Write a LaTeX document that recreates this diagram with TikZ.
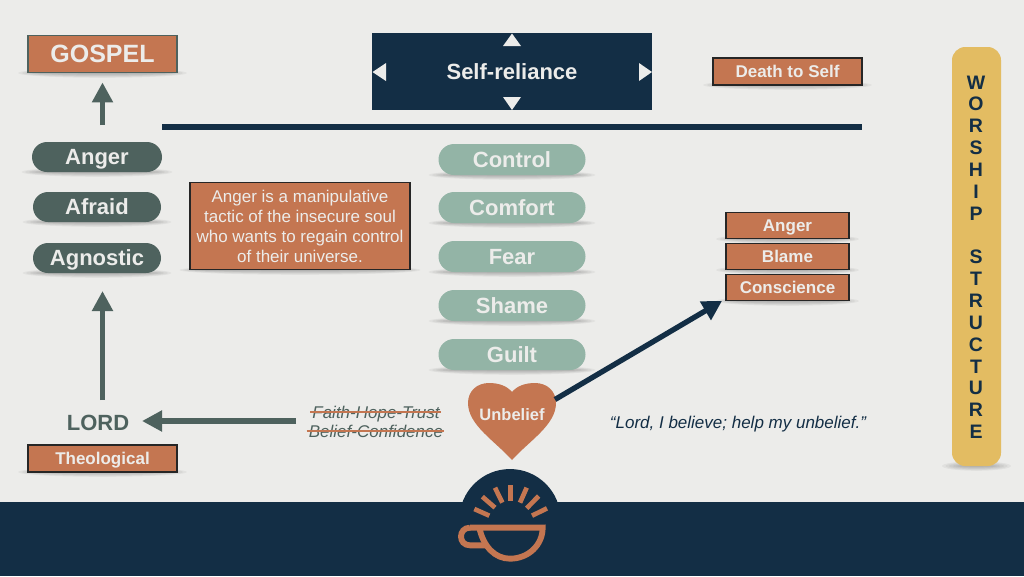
\documentclass[tikz,border=0pt]{standalone}
\usepackage{fontspec}
\setmainfont{Liberation Sans}
\usetikzlibrary{arrows.meta,calc,shapes.misc}
\definecolor{bgc}{HTML}{ECECEA}
\definecolor{orng}{HTML}{C47651}
\definecolor{dkgr}{HTML}{4E625E}
\definecolor{ltgr}{HTML}{93B4A6}
\definecolor{navy}{HTML}{132E45}
\definecolor{yell}{HTML}{E3BC62}
\newcommand{\fsb}[1]{\fontsize{\dimexpr #1pt*3/4\relax}{\dimexpr #1pt*9/10\relax}\selectfont\bfseries}
\newcommand{\fsr}[1]{\fontsize{\dimexpr #1pt*3/4\relax}{\dimexpr 20pt*3/4\relax}\selectfont}
\tikzset{
  x=0.75pt,y=-0.75pt,
  caps17/.style={text height=9.1pt,text depth=0pt},
  caps22/.style={text height=11.8pt,text depth=0pt},
  orbox/.style={draw=black!85,line width=1.1pt,fill=orng,text=bgc,inner sep=0pt,font=\fsb{17},caps17},
  darkpill/.style={rounded rectangle,fill=dkgr,text=bgc,inner sep=0pt,minimum width=96pt,minimum height=22.5pt,font=\fsb{22},caps22},
  lightpill/.style={rounded rectangle,fill=ltgr,text=bgc,inner sep=0pt,minimum width=110.25pt,minimum height=23.25pt,font=\fsb{22},caps22},
  grarrow/.style={draw=dkgr,line width=4.4pt,-{Triangle[length=15pt,width=15pt]}},
  navarrow/.style={draw=navy,line width=4pt,-{Triangle[length=14.5pt,width=15.5pt]}},
  ray/.style={draw=orng,line width=3.5pt},
  cupline/.style={draw=orng,line width=4.4pt,line join=miter},
  whitetri/.style={fill=bgc,draw=none},
  strike/.style={draw=orng,line width=1.5pt},
  letter/.style={text=navy,font=\fsb{19.5},inner sep=0pt,text height=10.5pt,text depth=0pt}
}
\newcommand{\shadowat}[3]{%
  \foreach \k in {1,...,6}{%
    \fill[black,fill opacity=0.045] (#1,#3) ellipse ({(#2+(\k-3)*3.5)*0.75pt} and {\k*0.8*0.75pt});%
  }%
}
\begin{document}
\begin{tikzpicture}
\useasboundingbox (0,0) rectangle (1024,576);
\fill[bgc] (0,0) rectangle (1024,576);

% soft shadows
\shadowat{102.5}{74}{73}
\shadowat{97}{65}{172}
\shadowat{97}{64}{222}
\shadowat{97}{64}{273}
\shadowat{102.5}{74}{472}
\shadowat{787.5}{74}{85}
\shadowat{787.5}{61}{239}
\shadowat{787.5}{61}{270}
\shadowat{787.5}{61}{301}
\shadowat{300}{110}{270}
\shadowat{512}{73}{175}
\shadowat{512}{73}{223}
\shadowat{512}{73}{272}
\shadowat{512}{73}{321}
\shadowat{512}{73}{370}
\shadowat{976.5}{24}{466}

% band and dome
\fill[navy] (0,502) rectangle (1024,576);
\fill[navy] (510,519.7) circle[radius=38pt];

% self-reliance panel
\node[fill=navy,text=bgc,inner sep=0pt,minimum width=210pt,minimum height=57.75pt,font=\fsb{22},caps22] (self) at (512,71.5) {Self-reliance};
\fill[whitetri] (512,33.5) -- (521,46) -- (503,46) -- cycle;
\fill[whitetri] (512,110) -- (521,97) -- (503,97) -- cycle;
\fill[whitetri] (372.5,72) -- (386,63) -- (386,81) -- cycle;
\fill[whitetri] (652,72) -- (639,63) -- (639,81) -- cycle;

% rule
\coordinate (ruleL) at (162,127);
\coordinate (ruleR) at (862,127);
\draw[navy,line width=3.9pt] (ruleL) -- (ruleR);

% left column
\node[draw=dkgr,line width=1.1pt,fill=orng,text=bgc,inner sep=0pt,minimum width=111.5pt,minimum height=28pt,font=\fsb{25},text height=13.4pt,text depth=0pt] (gospel) at (102.5,54) {GOSPEL};
\node[darkpill,minimum width=97.5pt] (anger) at (97,157) {Anger};
\node[darkpill] (afraid) at (97,207) {Afraid};
\node[darkpill] (agnostic) at (97,258) {Agnostic};
\node[text=dkgr,inner sep=0pt,font=\fsb{22},caps22] (lord) at (98,422.5) {LORD};
\node[orbox,minimum width=111.5pt,minimum height=20pt] (theo) at (102.5,458.5) {Theological};

% explanation
\node[draw=black!85,line width=1.1pt,fill=orng,text=bgc,inner sep=0pt,minimum width=165pt,minimum height=65.5pt,align=center,font=\fsr{17}] (expl) at (300,226) {Anger is a manipulative\\tactic of the insecure soul\\who wants to regain control\\of their universe.};

% middle column
\node[lightpill] (control) at (512,159.5) {Control};
\node[lightpill] (comfort) at (512,207.5) {Comfort};
\node[lightpill] (fear) at (512,256.5) {Fear};
\node[lightpill] (shame) at (512,305.5) {Shame};
\node[lightpill] (guilt) at (512,354.5) {Guilt};

% heart
\fill[orng] (512,460) .. controls (495,441) and (468,425) .. (468,403)
  .. controls (468,391) and (477,383) .. (489,383)
  .. controls (499,383) and (507,386) .. (512,392)
  .. controls (517,386) and (525,383) .. (535,383)
  .. controls (547,383) and (556,391) .. (556,403)
  .. controls (556,425) and (529,441) .. (512,460) -- cycle;
\node[text=bgc,inner sep=0pt,font=\fsb{16.5},text height=8.9pt,text depth=0pt] (unbelief) at (512,414.5) {Unbelief};

% struck words
\node[text=dkgr,inner sep=0pt,font=\fsr{17}\itshape,caps17] (faith) at (376,412) {Faith-Hope-Trust};
\node[text=dkgr,inner sep=0pt,font=\fsr{17}\itshape,caps17] (belief) at (376,431) {Belief-Confidence};
\draw[strike] ($(faith.west)+(-2,0)$) -- ($(faith.east)+(1,0)$);
\draw[strike] ($(belief.west)+(-2,0)$) -- ($(belief.east)+(1,0)$);

% quote
\node[text=navy,inner sep=0pt,font=\fsr{17}\itshape,caps17] (quote) at (738,422) {“Lord, I believe; help my unbelief.”};

% right stack
\node[orbox,minimum width=111.5pt,minimum height=20pt] (death) at (787.5,71.5) {Death to Self};
\node[orbox,minimum width=92pt,minimum height=19.5pt] (r1) at (787.5,225.5) {Anger};
\node[orbox,minimum width=92pt,minimum height=19.5pt] (r2) at (787.5,256.5) {Blame};
\node[orbox,minimum width=92pt,minimum height=19.5pt] (r3) at (787.5,287.5) {Conscience};

% worship bar
\fill[yell,rounded corners=10pt] (952,47) rectangle (1001,466);
\foreach \c/\k in {W/0,O/1,R/2,S/3,H/4,I/5,P/6,S/8,T/9,R/10,U/11,C/12,T/13,U/14,R/15,E/16}{
  \node[letter] at (976,82+21.85*\k) {\c};
}

% connectors
\coordinate (gstart) at (102.5,125);
\coordinate (lstart) at (102.5,400);
\coordinate (ltip) at (102.5,291);
\coordinate (hstart) at (296,421);
\coordinate (htip) at (142,421);
\coordinate (nstart) at (555,399.5);
\coordinate (ntip) at (722,301);
\draw[grarrow,shorten >=6.75pt] (gstart) -- (gospel.south);
\draw[grarrow] (lstart) -- (ltip);
\draw[grarrow] (hstart) -- (htip);
\draw[navarrow] (nstart) -- (ntip);

% cup logo (coordinates in 1/3 px from the corner of the logo)
\begin{scope}[shift={(450,465)},x=0.25pt,y=-0.25pt]
  \draw[ray] (73,132) -- (118,152);
  \draw[ray] (97,95) -- (135,128);
  \draw[ray] (135,68) -- (157,113);
  \draw[ray] (182,60) -- (182,107);
  \draw[ray] (230,68) -- (210,113);
  \draw[ray] (266,93) -- (230,130);
  \draw[ray] (291,130) -- (246,152);
  \draw[cupline] (60,188) -- (278,188) .. controls (278,240) and (235,281) .. (180,281)
     .. controls (135,281) and (100,245) .. (88,188);
  \draw[cupline] (60,188) .. controls (24,188) and (24,241) .. (60,241) -- (112,241);
\end{scope}
\end{tikzpicture}
\end{document}
